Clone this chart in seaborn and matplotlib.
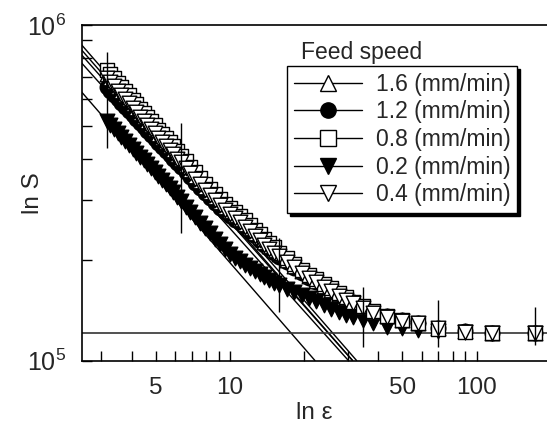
import matplotlib
matplotlib.use("Agg")
import matplotlib.pyplot as plt
import seaborn as sns
import pandas as pd
from matplotlib.lines import Line2D
from matplotlib.ticker import FixedLocator, FixedFormatter, NullFormatter

sns.set_style("ticks")
plt.rcParams["font.family"] = ["Liberation Sans", "DejaVu Sans"]
plt.rcParams["mathtext.fontset"] = "custom"
plt.rcParams["mathtext.rm"] = "Liberation Sans"
plt.rcParams["mathtext.it"] = "Liberation Sans:italic"

# ---------------- data ----------------
epsilon = [3.162, 3.273, 3.388, 3.508, 3.631, 3.758, 3.890, 4.027, 4.169, 4.315,
           4.467, 4.624, 4.786, 4.955, 5.129, 5.309, 5.495, 5.689, 5.888, 6.095,
           6.310, 6.607, 6.918, 7.244, 7.586, 7.943, 8.318, 8.710, 9.120, 9.550,
           10.00, 10.47, 10.96, 11.48, 12.02, 12.59, 13.18, 13.80, 14.45, 15.14,
           15.85, 16.98, 18.20, 19.50, 20.89, 22.39, 23.99, 25.70, 27.54, 29.51,
           31.62, 34.67, 38.02, 43.3, 49.8, 57.8, 69.7, 89.7, 115.0, 172.0]

S_16 = [7.145, 6.934, 6.745, 6.546, 6.368, 6.180, 5.998, 5.821, 5.649, 5.483,
        5.333, 5.176, 5.023, 4.887, 4.742, 4.613, 4.477, 4.345, 4.227, 4.102,
        3.990, 3.837, 3.698, 3.556, 3.428, 3.296, 3.177, 3.062, 2.958, 2.870,
        2.786, 2.710, 2.636, 2.558, 2.483, 2.404, 2.328, 2.260, 2.193, 2.128,
        2.070, 1.991, 1.914, 1.845, 1.782, 1.726, 1.671, 1.622, 1.574, 1.531,
        1.489, 1.442, 1.396, 1.358, 1.321, 1.294, 1.250, 1.224, 1.208, 1.208]

S_12 = [6.516, 6.338, 6.172, 6.003, 5.852, 5.692, 5.530, 5.379, 5.231, 5.088,
        4.954, 4.819, 4.686, 4.569, 4.439, 4.327, 4.208, 4.093, 3.986, 3.876,
        3.779, 3.641, 3.520, 3.392, 3.277, 3.161, 3.053, 2.949, 2.857, 2.778,
        2.702, 2.631, 2.565, 2.491, 2.421, 2.349, 2.277, 2.213, 2.151, 2.090,
        2.035, 1.961, 1.889, 1.825, 1.766, 1.714, 1.663, 1.617, 1.574, 1.531,
        1.489, 1.442, 1.396, 1.355, 1.320, 1.290, 1.250, 1.225, 1.210, 1.210]

S_08 = [7.345, 7.128, 6.934, 6.729, 6.546, 6.353, 6.166, 5.984, 5.807, 5.637,
        5.482, 5.321, 5.164, 5.024, 4.875, 4.742, 4.602, 4.467, 4.345, 4.217,
        4.078, 3.921, 3.779, 3.634, 3.503, 3.369, 3.247, 3.129, 3.023, 2.933,
        2.847, 2.770, 2.694, 2.614, 2.538, 2.457, 2.379, 2.310, 2.241, 2.175,
        2.095, 2.015, 1.937, 1.867, 1.803, 1.747, 1.691, 1.641, 1.593, 1.549,
        1.498, 1.451, 1.404, 1.355, 1.318, 1.290, 1.245, 1.220, 1.208, 1.205]

S_02 = [5.176, 5.035, 4.898, 4.764, 4.634, 4.508, 4.385, 4.266, 4.159, 4.055,
        3.963, 3.855, 3.750, 3.648, 3.548, 3.451, 3.357, 3.266, 3.170, 3.076,
        2.985, 2.877, 2.773, 2.673, 2.576, 2.483, 2.393, 2.307, 2.223, 2.148,
        2.080, 2.023, 1.977, 1.932, 1.892, 1.854, 1.816, 1.778, 1.742, 1.706,
        1.675, 1.637, 1.603, 1.570, 1.535, 1.500, 1.462, 1.426, 1.396, 1.371,
        1.346, 1.318, 1.294, 1.262, 1.247, 1.233, 1.227, 1.213, 1.208, 1.208]

S_04 = [6.952, 6.747, 6.563, 6.369, 6.196, 6.013, 5.836, 5.664, 5.496, 5.335,
        5.189, 5.036, 4.887, 4.755, 4.614, 4.488, 4.356, 4.228, 4.113, 3.991,
        3.910, 3.760, 3.624, 3.485, 3.359, 3.230, 3.113, 3.001, 2.899, 2.813,
        2.730, 2.656, 2.583, 2.507, 2.433, 2.356, 2.281, 2.215, 2.149, 2.085,
        2.049, 1.971, 1.895, 1.827, 1.764, 1.709, 1.654, 1.606, 1.558, 1.516,
        1.482, 1.435, 1.389, 1.350, 1.315, 1.290, 1.250, 1.220, 1.205, 1.205]

labels = ["1.6 (mm/min)", "1.2 (mm/min)", "0.8 (mm/min)", "0.2 (mm/min)", "0.4 (mm/min)"]
series = [S_16, S_12, S_08, S_02, S_04]
markers = ["^", "o", "s", "v", "v"]
filled = [False, True, False, True, False]
draw_order = [3, 1, 0, 2, 4]

# fitted power-law lines: endpoints (epsilon, S)
fit_x0 = [2.506, 2.506, 2.506, 2.506, 2.506]
fit_y0 = [8.42e5, 7.70e5, 8.72e5, 6.31e5, 8.14e5]
fit_x1 = [31.4, 30.2, 32.6, 22.1, 31.4]
fit_y1 = [1.0e5, 1.0e5, 1.0e5, 1.0e5, 1.0e5]

plateau = 1.21e5

err_x = [3.16, 6.33, 15.8, 34.6, 69.5, 172.0]
err_lo = [4.30e5, 2.40e5, 1.395e5, 1.097e5, 1.097e5, 1.112e5]
err_hi = [8.31e5, 5.10e5, 2.32e5, 1.656e5, 1.513e5, 1.44e5]

# ---------------- figure ----------------
W, H = 547, 423
fig = plt.figure(figsize=(W / 100, H / 100), dpi=100)
left_px, right_px, top_px, bot_px = 81.7, 547.0, 25.0, 360.5
ax = fig.add_axes([left_px / W, (H - bot_px) / H, (right_px - left_px) / W, (bot_px - top_px) / H])
ax.set_xscale("log")
ax.set_yscale("log")
ax.set_xlim(2.506, 192.8)
ax.set_ylim(1e5, 1e6)

# fit lines
for i in range(5):
    ax.plot([fit_x0[i], fit_x1[i]], [fit_y0[i], fit_y1[i]], color="black", lw=1.0, zorder=2)
ax.axhline(plateau, color="#333333", lw=1.2, zorder=2)

# data markers
for i in draw_order:
    df = pd.DataFrame({"eps": epsilon, "S": [v * 1e5 for v in series[i]]})
    sns.scatterplot(data=df, x="eps", y="S", ax=ax, marker=markers[i], s=110,
                    color="black" if filled[i] else "white", edgecolor="black",
                    linewidth=1.0, zorder=3 + draw_order.index(i))

ax.vlines(err_x, err_lo, err_hi, color="black", lw=1.0, zorder=10)

# ticks
ax.xaxis.set_major_locator(FixedLocator([5, 10, 50, 100]))
ax.xaxis.set_major_formatter(FixedFormatter(["5", "10", "50", "100"]))
ax.xaxis.set_minor_locator(FixedLocator([3, 4, 6, 7, 8, 9, 20, 30, 40, 60, 70, 80, 90]))
ax.xaxis.set_minor_formatter(NullFormatter())
ax.yaxis.set_major_locator(FixedLocator([1e5, 1e6]))
ax.yaxis.set_major_formatter(FixedFormatter([r"$\mathregular{10^{5}}$", r"$\mathregular{10^{6}}$"]))
ax.yaxis.set_minor_locator(FixedLocator([k * 1e5 for k in range(2, 10)]))
ax.yaxis.set_minor_formatter(NullFormatter())
ax.tick_params(axis="both", which="both", direction="in", length=7, width=1.0, color="black",
               top=False, right=False)
ax.tick_params(axis="x", which="major", labelsize=17.5, pad=12)
ax.tick_params(axis="y", which="major", labelsize=18, pad=11)

for sp in ["left", "bottom", "top"]:
    ax.spines[sp].set_color("black")
    ax.spines[sp].set_linewidth(1.2)
ax.spines["right"].set_visible(False)

ax.set_xlabel("ln ε", fontsize=17.5, labelpad=2)
ax.set_ylabel("ln S", fontsize=17.5)
ax.yaxis.set_label_coords((44 - left_px) / (right_px - left_px), 0.5)

# legend
handles = []
for i in range(5):
    handles.append(Line2D([], [], color="black", lw=1.0, marker=markers[i], markersize=11,
                          markerfacecolor="black" if filled[i] else "white",
                          markeredgecolor="black", markeredgewidth=1.0))
leg = ax.legend(handles, labels, loc="upper left",
                bbox_to_anchor=((287.3 - left_px) / (right_px - left_px), (bot_px - 66) / (bot_px - top_px)),
                borderaxespad=0, fontsize=16.5, frameon=True, fancybox=False, framealpha=1,
                edgecolor="black", handlelength=2.95, handletextpad=0.6, labelspacing=0.2,
                borderpad=0.3, shadow={"color": "black", "alpha": 1.0})
leg.get_frame().set_linewidth(1.0)
leg.set_zorder(20)
ax.text((300.7 - left_px) / (right_px - left_px), (bot_px - 53) / (bot_px - top_px), "Feed speed",
        transform=ax.transAxes, ha="left", va="center", fontsize=16.5, zorder=21)

fig.savefig("out.png", dpi=100)
